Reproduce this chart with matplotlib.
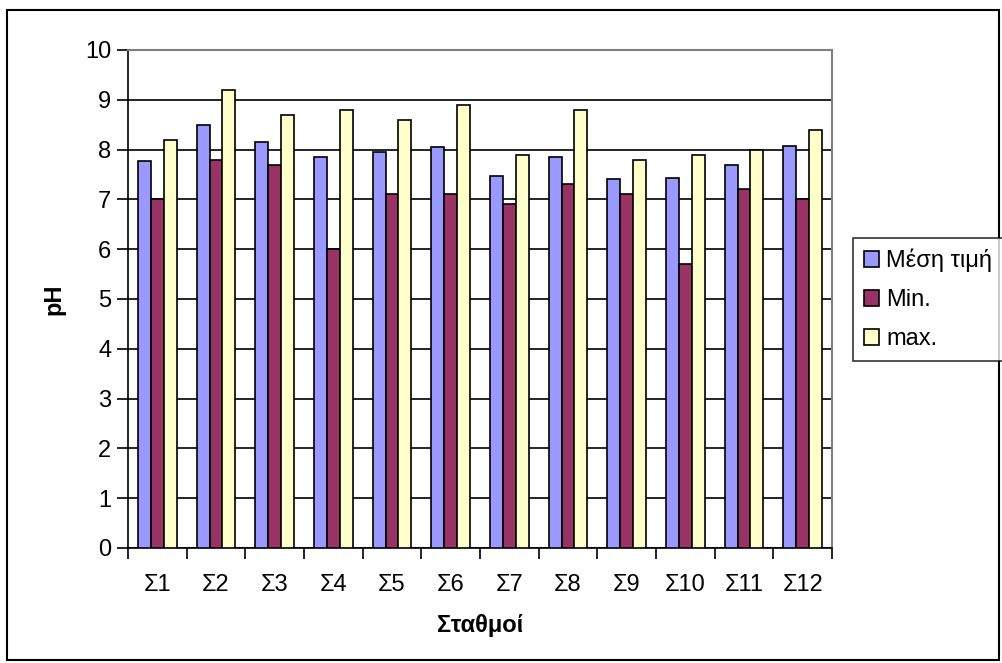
import numpy as np
import matplotlib.pyplot as plt
from matplotlib.patches import Rectangle

plt.rcParams['font.family'] = ['Liberation Sans', 'DejaVu Sans']

stations = ["Σ1", "Σ2", "Σ3", "Σ4", "Σ5", "Σ6", "Σ7", "Σ8", "Σ9", "Σ10", "Σ11", "Σ12"]
ph_mean = [7.77, 8.5, 8.15, 7.85, 7.95, 8.05, 7.47, 7.85, 7.4, 7.43, 7.7, 8.08]
ph_min = [7.0, 7.8, 7.7, 6.0, 7.1, 7.1, 6.9, 7.3, 7.1, 5.7, 7.2, 7.0]
ph_max = [8.2, 9.2, 8.7, 8.8, 8.6, 8.9, 7.9, 8.8, 7.8, 7.9, 8.0, 8.4]

fs = 17

fig = plt.figure(figsize=(10.02, 6.63), dpi=100)
ax = fig.add_axes([0.1277, 0.1735, 0.7026, 0.7511])

x = np.arange(len(stations))
w = 0.22
bar_kw = dict(width=w, edgecolor="black", linewidth=1.2, zorder=3)
b1 = ax.bar(x - w, ph_mean, color="#9999FF", label="Μέση τιμή", **bar_kw)
b2 = ax.bar(x, ph_min, color="#993366", label="Min.", **bar_kw)
b3 = ax.bar(x + w, ph_max, color="#FFFFCC", label="max.", **bar_kw)

ax.set_xlim(-0.5, len(stations) - 0.5)
ax.set_ylim(0, 10)
ax.set_yticks(range(0, 11))
ax.yaxis.grid(True, color="black", linewidth=1.2, zorder=0)
ax.set_axisbelow(True)

ax.set_xticks(x)
ax.set_xticklabels(stations)
ax.set_xticks(np.arange(-0.5, len(stations)), minor=True)
ax.tick_params(axis="x", which="major", length=0, pad=19, labelsize=fs)
ax.tick_params(axis="x", which="minor", length=8, width=1.2, direction="out")
ax.tick_params(axis="y", length=8, width=1.2, direction="out", labelsize=fs, pad=4)

for side in ("top", "right"):
    ax.spines[side].set_color("#808080")
    ax.spines[side].set_linewidth(1.5)
for side in ("left", "bottom"):
    ax.spines[side].set_color("black")
    ax.spines[side].set_linewidth(1.2)

ax.set_xlabel("Σταθμοί", fontsize=fs, fontweight="bold", labelpad=13)
ax.set_ylabel("pH", fontsize=fs, fontweight="bold", labelpad=14)

leg = fig.legend(handles=[b1, b2, b3], loc="upper left",
                 bbox_to_anchor=(853 / 1002, (663 - 238) / 663),
                 fancybox=False, edgecolor="black", fontsize=fs,
                 handlelength=0.65, handleheight=0.65, handletextpad=0.3,
                 labelspacing=0.72, borderpad=0.45, borderaxespad=0)
leg.get_frame().set_linewidth(1.2)

# outer chart border
fig.patches.append(Rectangle((7 / 1002, 3 / 663), 992 / 1002, 650 / 663,
                             transform=fig.transFigure, fill=False,
                             edgecolor="black", linewidth=1.5))

fig.savefig("out.png", dpi=100)
